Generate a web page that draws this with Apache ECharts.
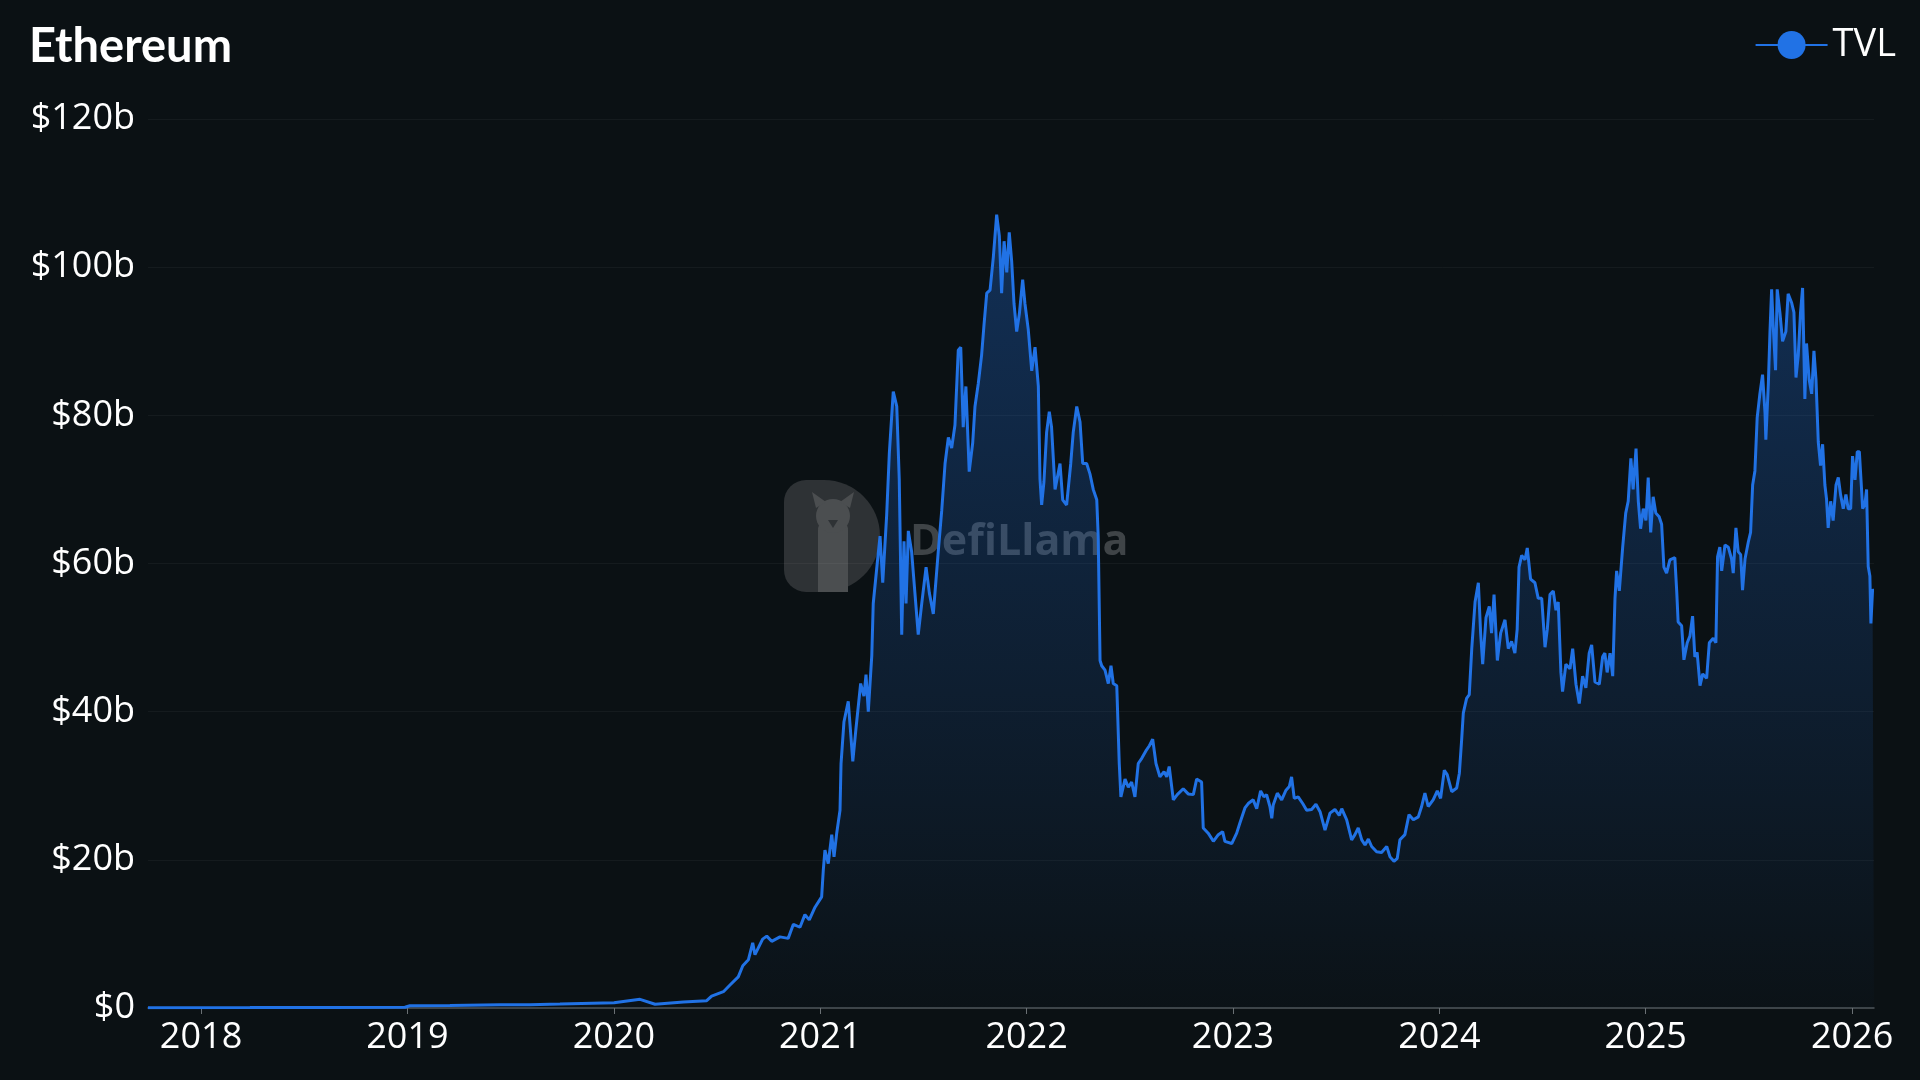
<!DOCTYPE html>
<html><head><meta charset="utf-8">
<style>html,body{margin:0;padding:0;background:#0b1114;}#c{width:1920px;height:1080px;}</style>
<script src="https://cdn.jsdelivr.net/npm/echarts@6/dist/echarts.min.js"></script>
</head><body><div id="c"></div>
<script>
// Time as decimal years, TVL in billions of USD
const years = [
2017.743,2018.237,2018.625,2018.988,2019.012,2019.206,2019.449,2019.594,2019.739,
2020.001,2020.127,2020.200,2020.337,2020.450,2020.474,2020.531,2020.563,2020.603,2020.625,2020.652,2020.673,2020.684,2020.721,2020.741,2020.765,2020.805,2020.845,2020.870,2020.902,2020.926,2020.947,2020.975,
2021.007,2021.015,2021.023,2021.039,2021.056,2021.067,2021.080,2021.096,2021.101,2021.115,2021.136,2021.158,2021.174,2021.196,2021.212,2021.222,2021.233,2021.250,2021.257,2021.277,2021.290,2021.303,2021.322,2021.335,2021.354,2021.371,2021.383,2021.395,2021.406,2021.416,2021.427,2021.443,2021.459,2021.475,2021.492,2021.513,2021.529,2021.548,2021.572,2021.589,2021.605,2021.621,2021.637,2021.653,2021.669,2021.681,2021.693,2021.706,2021.722,2021.739,2021.750,2021.766,2021.782,2021.794,2021.807,2021.823,2021.839,2021.855,2021.868,2021.879,2021.891,2021.904,2021.916,2021.928,2021.939,2021.952,2021.965,2021.981,2021.992,
2022.008,2022.025,2022.041,2022.057,2022.065,2022.073,2022.084,2022.097,2022.110,2022.121,2022.138,2022.162,2022.175,2022.194,2022.214,2022.226,2022.243,2022.259,2022.272,2022.291,2022.307,2022.323,2022.340,2022.347,2022.356,2022.364,2022.380,2022.396,2022.409,2022.420,2022.437,2022.449,2022.457,2022.477,2022.493,2022.509,2022.525,2022.541,2022.558,2022.578,2022.595,2022.611,2022.627,2022.646,2022.666,2022.679,2022.691,2022.711,2022.730,2022.759,2022.783,2022.808,2022.824,2022.848,2022.856,2022.880,2022.905,2022.929,2022.950,2022.961,2022.994,
2023.018,2023.034,2023.058,2023.074,2023.098,2023.115,2023.134,2023.150,2023.163,2023.179,2023.188,2023.195,2023.215,2023.236,2023.257,2023.273,2023.284,2023.297,2023.316,2023.338,2023.357,2023.381,2023.402,2023.422,2023.446,2023.470,2023.494,2023.515,2023.527,2023.551,2023.575,2023.591,2023.607,2023.624,2023.640,2023.656,2023.672,2023.696,2023.720,2023.745,2023.761,2023.780,2023.796,2023.809,2023.833,2023.853,2023.874,2023.898,2023.914,2023.930,2023.946,2023.970,2023.990,
2024.006,2024.024,2024.038,2024.060,2024.084,2024.097,2024.108,2024.116,2024.132,2024.145,2024.157,2024.173,2024.189,2024.200,2024.210,2024.226,2024.242,2024.253,2024.265,2024.281,2024.297,2024.318,2024.334,2024.350,2024.366,2024.377,2024.386,2024.399,2024.415,2024.426,2024.442,2024.463,2024.479,2024.496,2024.512,2024.523,2024.536,2024.552,2024.565,2024.576,2024.589,2024.597,2024.613,2024.633,2024.646,2024.662,2024.678,2024.694,2024.710,2024.726,2024.738,2024.754,2024.775,2024.791,2024.802,2024.813,2024.827,2024.840,2024.851,2024.859,2024.872,2024.888,2024.903,2024.915,2024.928,2024.939,2024.953,2024.964,2024.975,2024.988,
2025.001,2025.012,2025.024,2025.036,2025.049,2025.065,2025.077,2025.088,2025.101,2025.117,2025.141,2025.150,2025.157,2025.174,2025.185,2025.201,2025.214,2025.227,2025.238,2025.249,2025.263,2025.276,2025.295,2025.308,2025.327,2025.340,2025.348,2025.359,2025.368,2025.384,2025.400,2025.416,2025.424,2025.437,2025.448,2025.460,2025.469,2025.481,2025.497,2025.508,2025.518,2025.529,2025.540,2025.553,2025.566,2025.578,2025.582,2025.594,2025.602,2025.610,2025.618,2025.629,2025.637,2025.650,2025.663,2025.679,2025.690,2025.707,2025.718,2025.728,2025.739,2025.750,2025.760,2025.771,2025.779,2025.792,2025.804,2025.815,2025.825,2025.836,2025.847,2025.857,2025.868,2025.876,2025.884,2025.896,2025.908,2025.922,2025.933,2025.944,2025.957,2025.970,2025.981,2025.993,
2026.002,2026.014,2026.025,2026.035,2026.043,2026.051,2026.062,2026.070,2026.078,2026.086,2026.091,2026.099,2026.106
];
const tvl = [
0.05,0.06,0.08,0.1,0.3,0.35,0.45,0.45,0.54,
0.72,1.17,0.5,0.81,0.99,1.6,2.2,3.1,4.2,5.7,6.5,8.8,7.2,9.3,9.7,9.0,9.6,9.4,11.3,10.9,12.6,11.9,13.6,
15.0,18.6,21.3,19.5,23.4,20.4,23.6,26.7,33.0,38.6,41.4,33.3,37.9,43.8,42.1,45.0,40.0,47.6,54.6,60.2,63.7,57.4,66.5,74.9,83.2,81.2,71.4,50.4,63.0,54.6,64.4,61.6,56.0,50.4,54.6,59.5,56.0,53.2,61.6,67.2,73.5,77.0,75.6,78.7,88.8,89.2,78.4,83.9,72.4,76.3,81.2,84.3,88.1,92.3,96.5,96.9,101.4,107.1,104.2,96.5,103.5,99.3,104.7,100.7,95.1,91.3,93.7,98.3,95.1,
91.6,86.0,89.2,83.9,71.4,67.9,71.0,77.7,80.5,78.4,70.0,73.5,68.6,67.9,73.5,77.7,81.2,79.1,73.5,73.5,72.1,70.0,68.6,63.7,46.9,46.2,45.6,43.8,46.2,43.8,43.5,33.0,28.5,30.9,29.8,30.5,28.5,33.0,33.7,34.7,35.4,36.3,33.0,31.2,31.9,31.2,32.6,28.1,28.8,29.6,28.9,28.8,30.9,30.5,24.3,23.6,22.5,23.4,23.8,22.5,22.2,
23.6,25.0,27.0,27.6,28.1,26.9,29.3,28.5,28.8,27.2,25.6,27.4,29.0,28.1,29.4,29.9,31.2,28.3,28.5,27.6,26.7,26.8,27.5,26.5,24.0,26.3,26.8,26.0,26.9,25.4,22.7,23.4,24.3,22.7,22.0,22.8,21.8,21.1,21.0,21.8,20.4,19.8,20.2,22.7,23.4,26.1,25.4,25.8,27.2,29.0,27.2,28.1,29.3,
28.3,32.1,31.5,29.2,29.7,31.7,36.2,39.8,41.8,42.3,48.5,54.8,57.4,50.6,46.4,52.7,54.2,50.6,55.8,46.9,50.6,52.4,48.5,49.5,47.9,51.1,59.5,61.1,60.5,62.1,57.9,57.4,55.3,55.3,48.7,51.1,55.8,56.3,53.7,54.8,45.3,42.7,46.4,45.8,48.5,43.7,41.1,44.8,43.2,47.9,49.0,44.0,43.7,47.4,47.9,45.3,47.9,44.8,55.3,59.0,56.3,62.1,66.8,68.4,74.2,70.0,75.5,68.4,64.7,67.4,
65.8,71.6,64.2,69.0,66.8,66.3,65.3,59.5,58.7,60.5,60.8,56.3,52.1,51.6,47.0,49.3,50.2,52.9,47.4,48.0,43.5,45.1,44.5,49.3,49.9,49.3,60.9,62.2,59.0,62.5,62.2,60.6,58.7,64.8,61.6,61.2,56.4,60.6,62.9,64.2,70.6,72.5,79.7,82.9,85.5,80.3,76.7,84.2,91.3,97.0,91.9,86.1,97.0,93.9,90.0,91.3,96.4,95.2,93.9,85.1,88.1,93.9,97.2,82.2,89.7,84.8,82.9,88.7,84.8,76.4,73.2,76.1,70.6,68.7,64.8,68.4,65.8,70.6,71.6,69.3,67.4,69.3,67.4,67.4,
74.5,71.3,75.1,75.1,71.3,67.4,68.0,70.0,59.6,58.3,51.9,56.4,56.4
];
const xTickYears = [2018,2019,2020,2021,2022,2023,2024,2025,2026];
const xTickLabels = ['2018','2019','2020','2021','2022','2023','2024','2025','2026'];
const yTickValues = [0,20,40,60,80,100,120];
const yTickLabels = ['$0','$20b','$40b','$60b','$80b','$100b','$120b'];
const seriesName = 'TVL';
const chartTitle = 'Ethereum';

const seriesData = years.map((y, i) => [y, tvl[i]]);
const chart = echarts.init(document.getElementById('c'), null, {renderer: 'canvas'});
const FONT = '"Open Sans", "Noto Sans", sans-serif';

chart.setOption({
  backgroundColor: '#0b1114',
  animation: false,
  title: {
    text: chartTitle, left: 29, top: 23, padding: 0,
    textStyle: {color: '#ffffff', fontSize: 47, fontWeight: 'bold', fontFamily: 'Lato, "Open Sans", sans-serif'}
  },
  legend: {
    data: [seriesName], right: 24, top: 26, padding: 0,
    itemWidth: 72, itemHeight: 35,
    textStyle: {color: '#ffffff', fontSize: 38, fontFamily: FONT}
  },
  grid: {left: 148, right: 46, top: 119, bottom: 72, containLabel: false},
  graphic: [{
    type: 'group', left: 784, top: 480, z: 1, silent: true,
    children: [
      {type: 'rect', shape: {x: 0, y: 0, width: 96, height: 112, r: [22, 56, 56, 22]}, style: {fill: '#2e3235'}},
      {type: 'rect', shape: {x: 34, y: 38, width: 30, height: 74, r: [12, 12, 0, 0]}, style: {fill: '#4b4e50'}},
      {type: 'circle', shape: {cx: 49, cy: 36, r: 17}, style: {fill: '#4b4e50'}},
      {type: 'polygon', shape: {points: [[32, 28], [28, 12], [42, 22]]}, style: {fill: '#4b4e50'}},
      {type: 'polygon', shape: {points: [[66, 28], [70, 12], [56, 22]]}, style: {fill: '#4b4e50'}},
      {type: 'polygon', shape: {points: [[44, 40], [54, 40], [49, 48]]}, style: {fill: '#2e3235'}},
      {type: 'text', style: {x: 126, y: 63, text: 'DefiLlama', fill: '#3f4447', fontSize: 43, fontWeight: 'bold', fontFamily: FONT, verticalAlign: 'middle'}}
    ]
  }],
  xAxis: {
    type: 'value', min: years[0], max: years[years.length - 1],
    splitLine: {show: false},
    axisLine: {show: true, lineStyle: {color: '#4e5458', width: 1.5}},
    axisTick: {show: true, length: 6, lineStyle: {color: '#6a7074'}, customValues: xTickYears},
    axisLabel: {
      color: '#ffffff', fontSize: 36, fontFamily: FONT, margin: 12,
      customValues: xTickYears,
      formatter: v => xTickLabels[xTickYears.indexOf(Math.round(v))] || ''
    }
  },
  yAxis: {
    type: 'value', min: 0, max: 120, interval: 20,
    axisLine: {show: false}, axisTick: {show: false},
    splitLine: {show: true, lineStyle: {color: 'rgba(255,255,255,0.045)', width: 1}},
    axisLabel: {
      color: '#ffffff', fontSize: 36, fontFamily: FONT, margin: 13,
      formatter: v => yTickLabels[yTickValues.indexOf(v)]
    }
  },
  series: [{
    name: seriesName, type: 'line', data: seriesData,
    showSymbol: false, symbol: 'none', color: '#2172e5', z: 3,
    lineStyle: {color: '#2172e5', width: 3},
    areaStyle: {
      color: new echarts.graphic.LinearGradient(0, 0, 0, 1, [
        {offset: 0, color: 'rgba(33,114,229,0.45)'},
        {offset: 1, color: 'rgba(33,114,229,0.02)'}
      ])
    }
  }]
});
</script>
</body></html>
